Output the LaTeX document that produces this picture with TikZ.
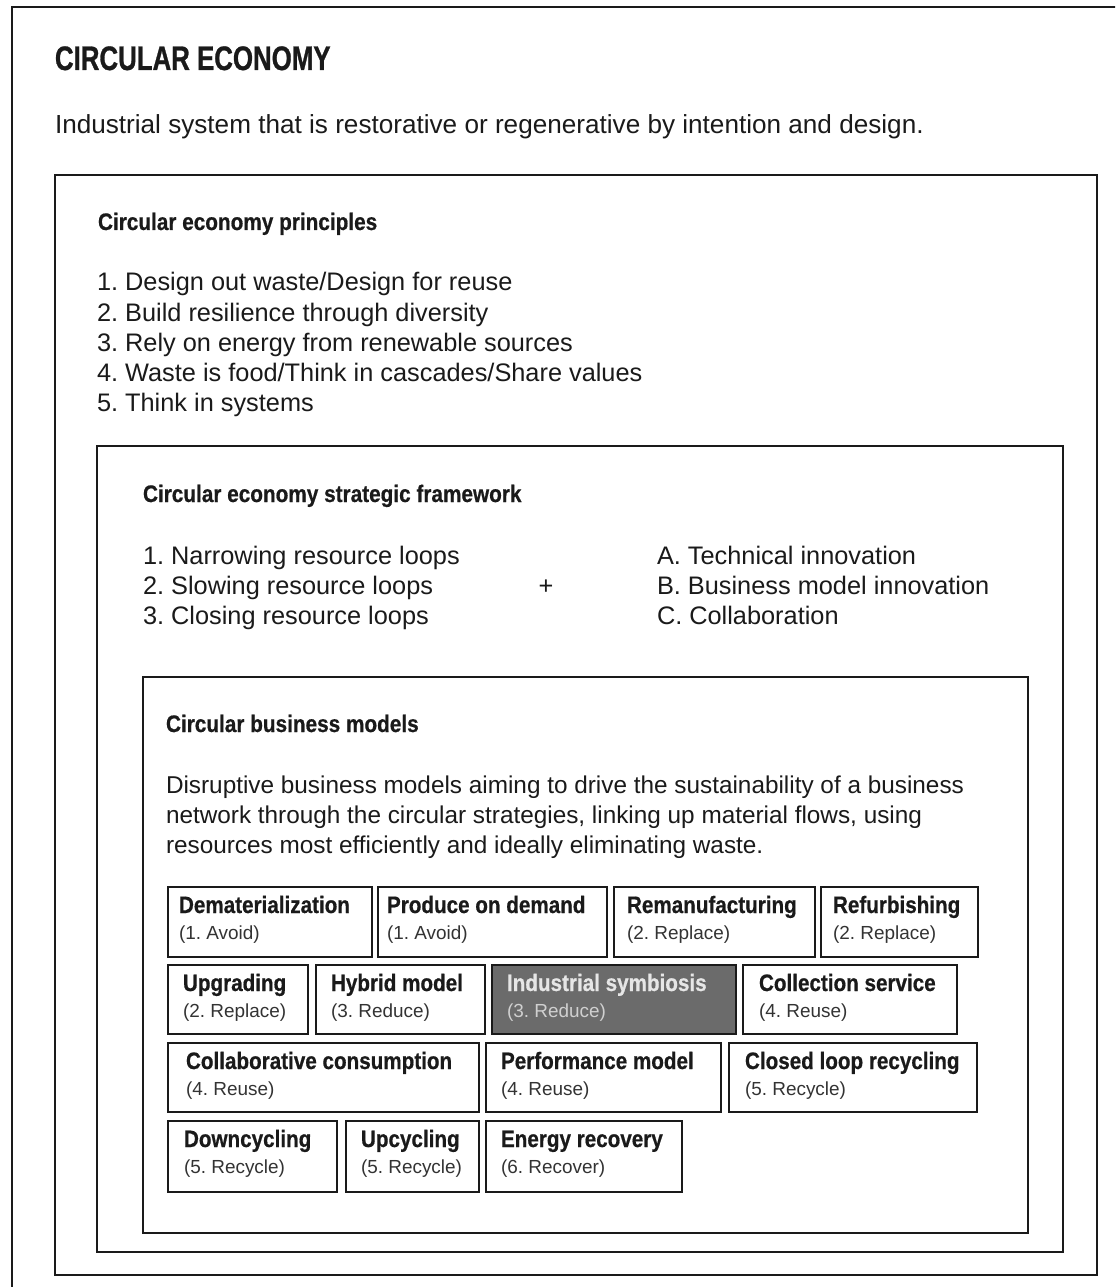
\documentclass[tikz,border=0pt]{standalone}
\usepackage{fontspec}
\setmainfont{Liberation Sans}
\newfontfamily\condA{Liberation Sans}[FakeStretch=0.87, BoldFeatures={FakeBold=0.6}]
\newfontfamily\condT{Liberation Sans}[FakeStretch=0.76, BoldFeatures={FakeBold=0.8}]
\definecolor{ink}{HTML}{1A1A1A}
\definecolor{subink}{HTML}{333333}
\definecolor{hotfill}{HTML}{6B6B6B}
\definecolor{hotttl}{HTML}{E6E6E6}
\definecolor{hotsub}{HTML}{D0D0D0}
\tikzset{
  frame/.style={draw=ink, line width=1.7pt, inner sep=0pt, outer sep=0pt},
  cellbox/.style={draw=ink, line width=2pt, inner sep=0pt, outer sep=0pt, fill=white},
  hot/.style={fill=hotfill},
  txt/.style={inner sep=0pt, outer sep=0pt, anchor=base west, text=ink},
  bigttl/.style={txt, font=\condT\bfseries\fontsize{25.5}{28}\selectfont},
  lead/.style={txt, font=\fontsize{19.6}{23}\selectfont},
  body/.style={txt, font=\fontsize{19}{22.5}\selectfont},
  para/.style={txt, font=\fontsize{18.25}{22.5}\selectfont},
  head/.style={txt, font=\condA\bfseries\fontsize{17.9}{20}\selectfont},
  boxttl/.style={txt, font=\condA\bfseries\fontsize{17.8}{20}\selectfont},
  boxsub/.style={txt, text=subink, font=\fontsize{14.2}{16}\selectfont},
}
\newcommand{\panel}[5]{\node[frame, anchor=north west, minimum width={(#4-#2)*0.75pt}, minimum height={(#5-#3)*0.75pt}] (#1) at (#2,#3) {};}
\newcommand{\bmcell}[9]{%
  \node[cellbox, #9, anchor=north west, minimum width={(#4-#2)*0.75pt}, minimum height={(#5-#3)*0.75pt}] (#1) at (#2,#3) {};
  \node[boxttl] (#1t) at ([xshift=#6*0.75pt, yshift=-19.5pt]#1.north west) {#7};
  \node[boxsub] (#1s) at ([xshift=#6*0.75pt, yshift=-39pt]#1.north west) {#8};}
\begin{document}
\frenchspacing
\begin{tikzpicture}[x=0.75pt,y=-0.75pt]
\useasboundingbox (0,0) rectangle (1115,1287);
\clip (0,0) rectangle (1115,1287);
\fill[white] (0,0) rectangle (1115,1287);
% frames
\panel{outer}{12}{7}{1130}{1300}
\panel{principles}{55}{175}{1097}{1275}
\panel{strategic}{97}{446}{1063}{1252}
\panel{models}{143}{677}{1028}{1233}
% title
\node[bigttl] (title) at (55,70) {CIRCULAR ECONOMY};
\node[lead] (def) at (55,134) {Industrial system that is restorative or regenerative by intention and design.};
% principles
\node[head] (ph) at (98,230) {Circular economy principles};
\node[body] (p1) at (97,291) {1. Design out waste/Design for reuse};
\node[body] (p2) at (97,321) {2. Build resilience through diversity};
\node[body] (p3) at (97,351) {3. Rely on energy from renewable sources};
\node[body] (p4) at (97,381) {4. Waste is food/Think in cascades/Share values};
\node[body] (p5) at (97,411) {5. Think in systems};
% strategic framework
\node[head] (sh) at (143,502) {Circular economy strategic framework};
\node[body] (s1) at (143,564) {1. Narrowing resource loops};
\node[body] (s2) at (143,594) {2. Slowing resource loops};
\node[body] (s3) at (143,624) {3. Closing resource loops};
\node[body, anchor=base] (plus) at (546,594) {+};
\node[body] (sa) at (657,564) {A. Technical innovation};
\node[body] (sb) at (657,594) {B. Business model innovation};
\node[body] (sc) at (657,624) {C. Collaboration};
% business models
\node[head] (mh) at (166,732) {Circular business models};
\node[para] (m1) at (166,793) {Disruptive business models aiming to drive the sustainability of a business};
\node[para] (m2) at (166,823) {network through the circular strategies, linking up material flows, using};
\node[para] (m3) at (166,853) {resources most efficiently and ideally eliminating waste.};
% cells
\bmcell{demat}{168}{887}{372}{957}{11}{Dematerialization}{(1. Avoid)}{}
\bmcell{produce}{378}{887}{607}{957}{9}{Produce on demand}{(1. Avoid)}{}
\bmcell{reman}{614}{887}{815}{957}{13}{Remanufacturing}{(2. Replace)}{}
\bmcell{refurb}{821}{887}{978}{957}{12}{Refurbishing}{(2. Replace)}{}
\bmcell{upgr}{168}{965}{308}{1034}{15}{Upgrading}{(2. Replace)}{}
\bmcell{hybrid}{316}{965}{485}{1034}{15}{Hybrid model}{(3. Reduce)}{}
\bmcell{indsym}{492}{965}{736}{1034}{15}{\color{hotttl}Industrial symbiosis}{\color{hotsub}(3. Reduce)}{hot}
\bmcell{collect}{743}{965}{957}{1034}{16}{Collection service}{(4. Reuse)}{}
\bmcell{collab}{168}{1043}{479}{1112}{18}{Collaborative consumption}{(4. Reuse)}{}
\bmcell{perf}{486}{1043}{721}{1112}{15}{Performance model}{(4. Reuse)}{}
\bmcell{closed}{729}{1043}{977}{1112}{16}{Closed loop recycling}{(5. Recycle)}{}
\bmcell{down}{168}{1121}{337}{1192}{16}{Downcycling}{(5. Recycle)}{}
\bmcell{up}{346}{1121}{479}{1192}{15}{Upcycling}{(5. Recycle)}{}
\bmcell{energy}{486}{1121}{682}{1192}{15}{Energy recovery}{(6. Recover)}{}
\end{tikzpicture}
\end{document}
